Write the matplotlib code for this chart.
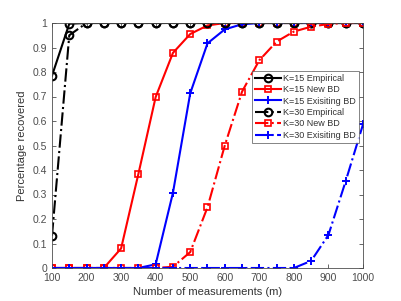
import matplotlib
matplotlib.use("Agg")
import matplotlib.pyplot as plt

plt.rcParams['font.family'] = ['Liberation Sans', 'DejaVu Sans']

m = [100, 150, 200, 250, 300, 350, 400, 450, 500, 550, 600, 650, 700, 750, 800, 850, 900, 950, 1000]
k15_emp = [0.785, 0.997, 1, 1, 1, 1, 1, 1, 1, 1, 1, 1, 1, 1, 1, 1, 1, 1, 1]
k15_new = [0, 0, 0, 0, 0.08, 0.384, 0.698, 0.878, 0.955, 0.99, 1, 1, 1, 1, 1, 1, 1, 1, 1]
k15_exist = [0, 0, 0, 0, 0, 0, 0.015, 0.307, 0.713, 0.917, 0.974, 0.995, 1, 1, 1, 1, 1, 1, 1]
k30_emp = [0.132, 0.95, 1, 1, 1, 1, 1, 1, 1, 1, 1, 1, 1, 1, 1, 1, 1, 1, 1]
k30_new = [0, 0, 0, 0, 0, 0, 0, 0.005, 0.065, 0.248, 0.5, 0.72, 0.848, 0.924, 0.965, 0.985, 0.996, 1, 1]
k30_exist = [0, 0, 0, 0, 0, 0, 0, 0, 0, 0, 0, 0, 0, 0, 0, 0.029, 0.135, 0.355, 0.586]

labels = ['K=15 Empirical', 'K=15 New BD', 'K=15 Exisiting BD',
          'K=30 Empirical', 'K=30 New BD', 'K=30 Exisiting BD']

fig = plt.figure(figsize=(4.02, 3.01), dpi=100)
ax = fig.add_axes([52/402, 1-268/301, 311/402, 245/301])

lw = 1.5
ax.plot(m, k15_emp, '-', color='k', marker='o', ms=5.5, mfc='none', mew=1.5, lw=lw, label=labels[0])
ax.plot(m, k15_new, '-', color='r', marker='s', ms=4.8, mfc='none', mew=1.2, lw=lw, label=labels[1])
ax.plot(m, k15_exist, '-', color='b', marker='+', ms=6, mew=1.4, lw=lw, label=labels[2])
ax.plot(m, k30_emp, '-.', color='k', marker='o', ms=5.5, mfc='none', mew=1.5, lw=lw, label=labels[3])
ax.plot(m, k30_new, '-.', color='r', marker='s', ms=4.8, mfc='none', mew=1.2, lw=lw, label=labels[4])
ax.plot(m, k30_exist, '-.', color='b', marker='+', ms=6, mew=1.4, lw=lw, label=labels[5])

ax.set_xlim(100, 1000)
ax.set_ylim(0, 1)
ax.set_xticks(range(100, 1001, 100))
ax.set_yticks([i/10 for i in range(11)])
ax.set_yticklabels(['0', '0.1', '0.2', '0.3', '0.4', '0.5', '0.6', '0.7', '0.8', '0.9', '1'])
ax.tick_params(direction='in', labelsize=7.5, colors='#4d4d4d', length=3, width=0.6,
               top=True, right=True)
for s in ax.spines.values():
    s.set_color('#4d4d4d')
    s.set_linewidth(0.6)
ax.set_xlabel('Number of measurements (m)', fontsize=8, color='#333333', labelpad=3)
ax.set_ylabel('Percentage recovered', fontsize=8, color='#333333', labelpad=4)

leg = ax.legend(loc='upper left', bbox_to_anchor=(0.643, 0.804), fontsize=6.5, frameon=True,
                fancybox=False, edgecolor='#4d4d4d', handlelength=2.9, borderpad=0.3,
                labelspacing=0.27, handletextpad=0.25, borderaxespad=0)
leg.get_frame().set_linewidth(0.6)
for t in leg.get_texts():
    t.set_color('#333333')

fig.savefig('out.png', dpi=100)
